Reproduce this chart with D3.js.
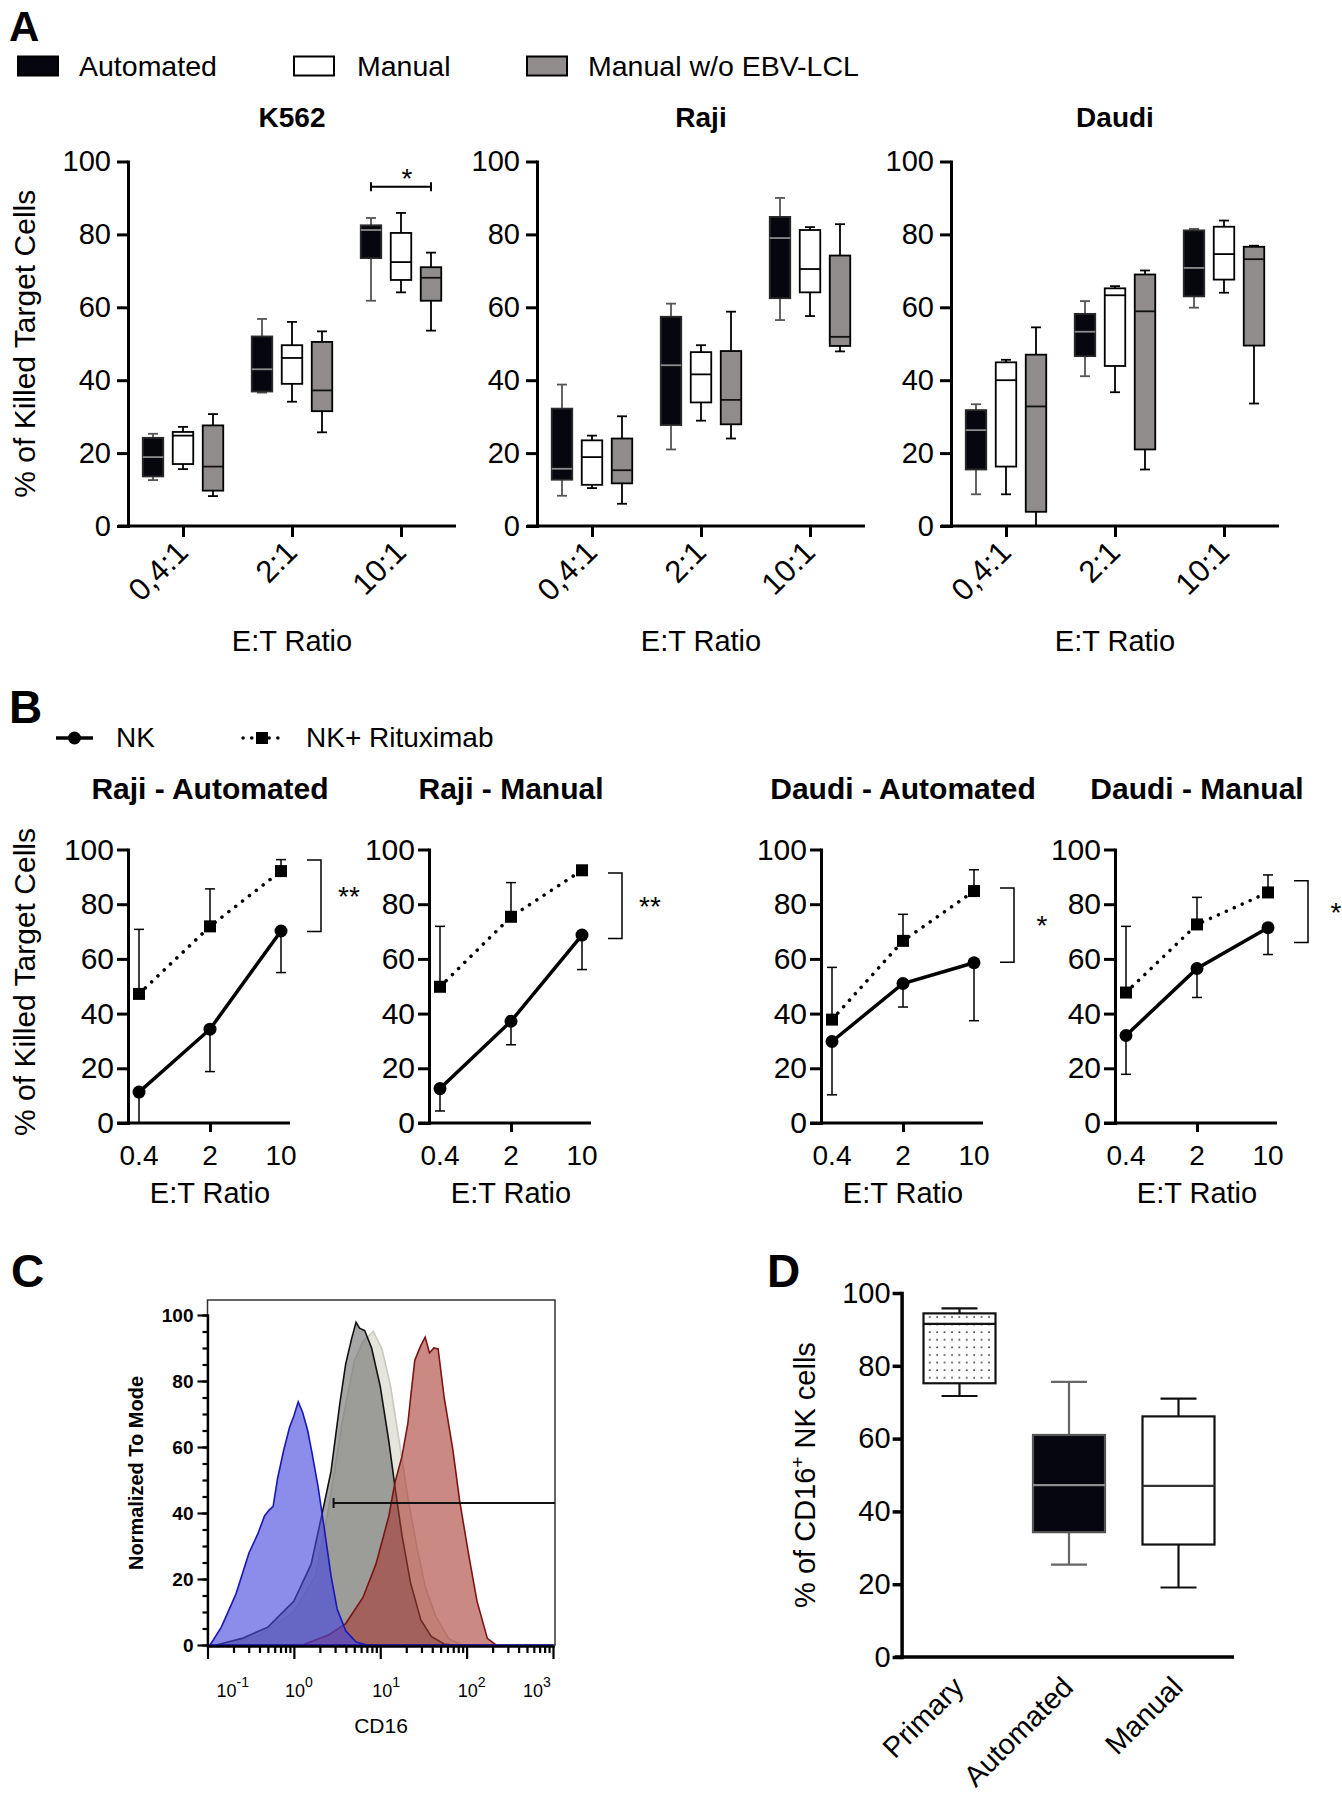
<!DOCTYPE html>
<html><head><meta charset="utf-8">
<script src="https://cdn.jsdelivr.net/npm/d3@7"></script>
<style>
body{margin:0;background:#fff}
svg{display:block}
text{font-family:"Liberation Sans",Arial,Helvetica,sans-serif;fill:#000}
</style></head><body>
<svg id="fig" width="1342" height="1800"></svg>
<script>
// ================= DATA =================
// Panel A
const ratioCategories = ["0,4:1", "2:1", "10:1"];
const protocolGroups = ["Automated", "Manual", "Manual w/o EBV-LCL"];
const targetLines = ["K562", "Raji", "Daudi"];
const yTicks = [0, 20, 40, 60, 80, 100];
// box stats per ratio: [whisker low, Q1, median, Q3, whisker high]
const k562Automated   = [[12.6,13.6,18.9,24.2,25.3],[36.6,36.9,43.0,52.0,56.8],[61.8,73.5,81.2,82.5,84.5]];
const k562Manual      = [[15.6,17.0,24.8,25.8,27.2],[34.1,39.0,46.1,49.6,56.0],[64.1,67.5,72.4,80.4,85.9]];
const k562ManualNoEBV = [[8.2,9.7,16.3,27.6,30.7],[25.7,31.5,37.2,50.5,53.4],[53.6,61.8,68.1,71.0,75.0]];
const rajiAutomated   = [[8.3,12.7,15.7,32.2,38.8],[21.0,27.7,44.1,57.4,61.0],[56.5,62.5,79.0,84.8,90.0]];
const rajiManual      = [[10.4,11.3,18.9,23.5,24.8],[28.9,33.9,41.6,47.7,49.6],[57.6,64.1,70.5,81.2,82.0]];
const rajiManualNoEBV = [[6.1,11.7,15.3,24.0,30.1],[24.0,27.9,34.6,48.0,58.8],[47.9,49.4,51.9,74.2,82.8]];
const daudiAutomated  = [[8.7,15.5,26.3,31.8,33.4],[41.1,46.6,53.3,58.2,61.7],[59.9,63.0,70.8,81.1,81.5]];
const daudiManual     = [[8.7,16.3,40.0,44.9,45.6],[36.7,43.9,63.3,65.2,65.8],[64.0,67.6,74.6,82.1,83.8]];
const daudiManualNoEBV= [[0.0,3.9,32.8,47.0,54.5],[15.5,21.0,58.9,69.0,70.1],[33.6,49.5,73.2,76.6,76.9]];
const k562SignifLevel = 93.1;
const k562SignifLabel = "*";

// Panel B
const etRatios = [0.4, 2, 10];
const etTickLabels = ["0.4", "2", "10"];
const bSeriesNames = ["NK", "NK+ Rituximab"];
const bTitles = ["Raji - Automated", "Raji - Manual", "Daudi - Automated", "Daudi - Manual"];
const nkMean     = [[11.3,34.3,70.2],[12.6,37.2,68.7],[29.8,51.0,58.6],[32.0,56.5,71.4]];
const nkLower    = [[0.0,18.8,55.0],[4.4,28.6,56.1],[10.3,42.4,37.4],[17.8,45.9,61.6]];
const nkRtxMean  = [[47.2,71.9,92.1],[49.8,75.4,92.4],[37.8,66.6,84.8],[47.7,72.6,84.3]];
const nkRtxUpper = [[70.8,85.6,96.3],[71.9,87.9,93.2],[56.9,76.3,92.6],[71.9,82.5,90.7]];
const bracketRange = [[70.0,96.2],[67.5,91.4],[58.8,85.9],[66.0,88.6]];
const bracketStars = ["**", "**", "*", "*"];

// Panel C : histograms, [log10(CD16), % of mode]
const cdDecades = [0.1, 1, 10, 100, 1000];
const cdExponents = ["-1", "0", "1", "2", "3"];
const cdYTicks = [0, 20, 40, 60, 80, 100];
const histLightGray = [[-0.79,0],[-0.39,3],[0,10],[0.25,21],[0.4,41],[0.55,66],[0.7,86],[0.8,92],[0.92,95],[1.02,89.7],[1.12,78.4],[1.22,61.6],[1.32,44.7],[1.42,30.1],[1.52,17.8],[1.64,8.8],[1.79,2],[1.94,0]];
const histDarkGray  = [[-0.9,0],[-0.6,2],[-0.3,5.4],[0,13.3],[0.2,24.5],[0.33,40.2],[0.43,52.6],[0.53,72.8],[0.6,85.2],[0.67,93],[0.72,97.8],[0.76,96],[0.82,95.3],[0.9,90],[1.0,78.4],[1.1,61.6],[1.17,48],[1.25,33.5],[1.35,18.9],[1.47,7.6],[1.59,2.6],[1.74,0.3],[1.84,0]];
const histRed       = [[0.1,0],[0.4,3],[0.6,6.5],[0.8,14.4],[0.95,24.5],[1.1,39.1],[1.17,49.2],[1.25,57],[1.32,67.2],[1.36,77],[1.4,86.3],[1.47,90.8],[1.52,93.3],[1.57,88.5],[1.62,90],[1.67,89.7],[1.74,75],[1.84,59.3],[1.92,43.6],[2.02,27.9],[2.12,13.3],[2.24,2],[2.34,0]];
const histBlue      = [[-0.97,0],[-0.84,5.4],[-0.67,15.5],[-0.52,27.9],[-0.42,33.5],[-0.34,39.1],[-0.29,40.8],[-0.24,42],[-0.19,50.3],[-0.12,58.8],[-0.05,66],[0,69.4],[0.05,73.7],[0.1,70.6],[0.16,65],[0.21,58.2],[0.28,48],[0.35,35.7],[0.43,21],[0.5,11],[0.6,4.3],[0.72,0.9],[0.85,0],[3,0]];
const gateLevel = 43;
const gateStartLog = 0.46;

// Panel D
const cd16Categories = ["Primary", "Automated", "Manual"];
const cd16Boxes = [[71.7,75.2,91.5,94.4,95.8],[25.4,34.3,47.2,61.0,75.6],[19.1,30.9,47.0,66.1,71.0]];

// ================= DRAW =================
const svg = d3.select("#fig");
const FONT = '"Liberation Sans", Arial, Helvetica, sans-serif';

const defs = svg.append("defs");
const pat = defs.append("pattern").attr("id","dots").attr("patternUnits","userSpaceOnUse")
  .attr("width",7.4).attr("height",7.6).attr("x",926).attr("y",1313);
pat.append("rect").attr("width",7.4).attr("height",7.6).attr("fill","#fff");
pat.append("rect").attr("x",3).attr("y",3.2).attr("width",1.6).attr("height",1.6).attr("fill","#333");

function styleAxis(sel, w, fs, weight) {
  sel.attr("font-size", null).attr("font-family", null);
  sel.selectAll("path.domain").attr("stroke","#000").attr("stroke-width",w).attr("stroke-linecap","square");
  sel.selectAll(".tick line").attr("stroke","#000").attr("stroke-width",w);
  sel.selectAll(".tick text").attr("font-size",fs).attr("font-family",FONT).attr("fill","#000")
     .attr("font-weight", weight || "normal");
}

function label(g, x, y, txt, size, opts) {
  opts = opts || {};
  const t = g.append("text").attr("x",x).attr("y",y).attr("font-size",size)
    .attr("text-anchor",opts.anchor || "start").attr("font-weight",opts.weight || "normal").text(txt);
  if (opts.rotate) t.attr("transform",`rotate(${opts.rotate},${x},${y})`);
  return t;
}

function drawBox(g, cx, w, capW, s, y, st, sw) {
  const ln = (x1,y1,x2,y2,c) => g.append("line").attr("x1",x1).attr("y1",y1).attr("x2",x2).attr("y2",y2)
      .attr("stroke",c).attr("stroke-width",sw);
  ln(cx, y(s[4]), cx, y(s[3]), st.whisker);
  ln(cx-capW/2, y(s[4]), cx+capW/2, y(s[4]), st.whisker);
  ln(cx, y(s[1]), cx, y(s[0]), st.whisker);
  ln(cx-capW/2, y(s[0]), cx+capW/2, y(s[0]), st.whisker);
  g.append("rect").attr("x",cx-w/2).attr("y",y(s[3])).attr("width",w).attr("height",y(s[1])-y(s[3]))
    .attr("fill",st.fill).attr("stroke",st.stroke).attr("stroke-width",sw);
  ln(cx-w/2, y(s[2]), cx+w/2, y(s[2]), st.median);
}

const boxStyles = [
  {fill:"#06060f", stroke:"#2a2a2a", median:"#8c8c8c", whisker:"#555"},
  {fill:"#ffffff", stroke:"#000", median:"#000", whisker:"#000"},
  {fill:"#918c8c", stroke:"#000", median:"#111", whisker:"#000"}
];

// ---------- Panel A ----------
label(svg, 9, 41, "A", 42, {weight:"bold"});
const legA = svg.append("g");
const legAX = [18, 294, 527], legATextX = [79, 357, 588];
protocolGroups.forEach((p,i)=>{
  legA.append("rect").attr("x",legAX[i]).attr("y",56.5).attr("width",40).attr("height",19)
    .attr("fill",boxStyles[i].fill).attr("stroke","#000").attr("stroke-width",2);
  label(legA, legATextX[i], 76, p, 28.5);
});

const panelAX = [128, 537, 951];
const boxSeries = [[k562Automated,k562Manual,k562ManualNoEBV],[rajiAutomated,rajiManual,rajiManualNoEBV],[daudiAutomated,daudiManual,daudiManualNoEBV]];
const yA = d3.scaleLinear().domain([0,100]).range([526,161.5]);
targetLines.forEach((name,pi)=>{
  const ax = panelAX[pi];
  const g = svg.append("g");
  const x = d3.scalePoint().domain(ratioCategories).range([ax+55, ax+273]);
  const off = d3.scalePoint().domain(protocolGroups).range([-30,30]);
  g.append("line").attr("x1",ax-10).attr("x2",ax+328).attr("y1",yA(0)).attr("y2",yA(0))
    .attr("stroke","#000").attr("stroke-width",3);
  const xa = g.append("g").attr("transform",`translate(0,${yA(0)})`)
    .call(d3.axisBottom(x).tickSize(11).tickFormat(""));
  xa.select(".domain").remove();
  xa.selectAll(".tick line").attr("stroke","#000").attr("stroke-width",3);
  const ya = g.append("g").attr("transform",`translate(${ax},0)`)
    .call(d3.axisLeft(yA).tickValues(yTicks).tickSize(11).tickSizeOuter(0).tickPadding(6));
  styleAxis(ya, 3, 29);
  g.selectAll("text.xl").data(ratioCategories).join("text").attr("class","xl")
    .attr("transform",d=>`translate(${x(d)+7},${yA(0)+28}) rotate(-45)`)
    .attr("text-anchor","end").attr("font-size",31).text(d=>d);
  label(g, x(ratioCategories[1]), 127, name, 28, {anchor:"middle", weight:"bold"});
  label(g, x(ratioCategories[1]), 651, "E:T Ratio", 29, {anchor:"middle"});
  boxSeries[pi].forEach((series,gi)=>{
    series.forEach((s,ci)=>drawBox(g, x(ratioCategories[ci])+off(protocolGroups[gi]), 20.5, 10, s, yA, boxStyles[gi], 1.8));
  });
  if (pi === 0) {
    label(g, 35, (yA(0)+yA(100))/2, "% of Killed Target Cells", 30, {anchor:"middle", rotate:-90});
    const c = ratioCategories[2];
    const x1 = x(c)+off(protocolGroups[0]), x2 = x(c)+off(protocolGroups[2]), yy = yA(k562SignifLevel);
    g.append("path").attr("d",`M${x1},${yy-4.5}V${yy+4.5}M${x1},${yy}H${x2}M${x2},${yy-4.5}V${yy+4.5}`)
      .attr("stroke","#000").attr("stroke-width",2).attr("fill","none");
    label(g, (x1+x2)/2+6, yy+1, k562SignifLabel, 28, {anchor:"middle"});
  }
});

// ---------- Panel B ----------
label(svg, 9, 723, "B", 46, {weight:"bold"});
const legB = svg.append("g");
legB.append("line").attr("x1",56).attr("x2",93).attr("y1",738).attr("y2",738).attr("stroke","#000").attr("stroke-width",3.5);
legB.append("circle").attr("cx",74.5).attr("cy",738).attr("r",6.5).attr("fill","#000");
label(legB, 116, 747, bSeriesNames[0], 28);
legB.append("line").attr("x1",243).attr("x2",281).attr("y1",738).attr("y2",738).attr("stroke","#000")
  .attr("stroke-width",3.5).attr("stroke-dasharray","0.1 8.6").attr("stroke-linecap","round");
legB.append("rect").attr("x",256).attr("y",732).attr("width",12).attr("height",12).attr("fill","#000");
label(legB, 306, 747, bSeriesNames[1], 28);

const panelBX = [128, 429, 821, 1115];
const yB = d3.scaleLinear().domain([0,100]).range([1123,849.5]);
bTitles.forEach((title,pi)=>{
  const ax = panelBX[pi];
  const g = svg.append("g");
  const x = d3.scaleLog().domain([0.4,10]).range([ax+11, ax+153]);
  g.append("line").attr("x1",ax-11).attr("x2",ax+162).attr("y1",yB(0)).attr("y2",yB(0))
    .attr("stroke","#000").attr("stroke-width",3);
  const xa = g.append("g").attr("transform",`translate(0,${yB(0)})`)
    .call(d3.axisBottom(x).tickValues([etRatios[1]]).tickSize(9).tickFormat(""));
  xa.select(".domain").remove();
  xa.selectAll(".tick line").attr("stroke","#000").attr("stroke-width",3);
  const ya = g.append("g").attr("transform",`translate(${ax},0)`)
    .call(d3.axisLeft(yB).tickValues(yTicks).tickSize(11).tickSizeOuter(0).tickPadding(3));
  styleAxis(ya, 3, 30);
  etRatios.forEach((r,i)=>label(g, x(r), yB(0)+42, etTickLabels[i], 28, {anchor:"middle"}));
  label(g, x(etRatios[1]), 799, title, 30, {anchor:"middle", weight:"bold"});
  label(g, x(etRatios[1]), 1203, "E:T Ratio", 29, {anchor:"middle"});
  if (pi === 0) label(g, 35, 982, "% of Killed Target Cells", 30, {anchor:"middle", rotate:-90});

  const eb = (xx, y1, y2) => {
    g.append("line").attr("x1",xx).attr("x2",xx).attr("y1",yB(y1)).attr("y2",yB(y2)).attr("stroke","#000").attr("stroke-width",1.5);
    g.append("line").attr("x1",xx-5).attr("x2",xx+5).attr("y1",yB(y2)).attr("y2",yB(y2)).attr("stroke","#000").attr("stroke-width",1.5);
  };
  etRatios.forEach((r,i)=>{ eb(x(r), nkMean[pi][i], nkLower[pi][i]); eb(x(r), nkRtxMean[pi][i], nkRtxUpper[pi][i]); });
  const line = d3.line().x((d,i)=>x(etRatios[i])).y(d=>yB(d));
  g.append("path").attr("d",line(nkRtxMean[pi])).attr("fill","none").attr("stroke","#000")
    .attr("stroke-width",3.5).attr("stroke-dasharray","0.1 8.6").attr("stroke-linecap","round");
  g.append("path").attr("d",line(nkMean[pi])).attr("fill","none").attr("stroke","#000").attr("stroke-width",3.5);
  g.selectAll("circle.nk").data(nkMean[pi]).join("circle").attr("class","nk")
    .attr("cx",(d,i)=>x(etRatios[i])).attr("cy",d=>yB(d)).attr("r",6.5).attr("fill","#000");
  g.selectAll("rect.rtx").data(nkRtxMean[pi]).join("rect").attr("class","rtx")
    .attr("x",(d,i)=>x(etRatios[i])-6).attr("y",d=>yB(d)-6).attr("width",12).attr("height",12).attr("fill","#000");
  const bx = x(etRatios[2]);
  const [lo, hi] = bracketRange[pi];
  g.append("path").attr("d",`M${bx+26},${yB(hi)}H${bx+40}V${yB(lo)}H${bx+26}`)
    .attr("fill","none").attr("stroke","#000").attr("stroke-width",1.5);
  label(g, bx+68, yB((lo+hi)/2)+10, bracketStars[pi], 28, {anchor:"middle"});
});

// ---------- Panel C ----------
label(svg, 11, 1287, "C", 46, {weight:"bold"});
const gC = svg.append("g");
const xC = d3.scaleLog().domain([0.1,1000]).range([207.5,553]);
const yC = d3.scaleLinear().domain([0,100]).range([1645,1315]);
gC.append("rect").attr("x",207.5).attr("y",1300).attr("width",555-207.5).attr("height",1645-1300)
  .attr("fill","none").attr("stroke","#333").attr("stroke-width",1.5);
const area = d3.area().x(d=>xC(Math.pow(10,d[0]))).y0(yC(0)).y1(d=>yC(d[1]));
const histLayers = [
  {data:histLightGray, fill:"#dcdcd2", op:0.75, stroke:"#c9c9c0"},
  {data:histDarkGray,  fill:"#6f6f6f", op:0.62, stroke:"#111"},
  {data:histRed,       fill:"#a83a32", op:0.6,  stroke:"#7c1414"},
  {data:histBlue,      fill:"#4646de", op:0.62, stroke:"#1818b4"}
];
histLayers.forEach(h=>{
  gC.append("path").attr("d",area(h.data)).attr("fill",h.fill).attr("fill-opacity",h.op)
    .attr("stroke",h.stroke).attr("stroke-width",1.6);
});
const gx = xC(Math.pow(10,gateStartLog)), gy = yC(gateLevel);
gC.append("path").attr("d",`M${gx},${gy-5}V${gy+5}M${gx},${gy}H555`).attr("stroke","#111").attr("stroke-width",2).attr("fill","none");
const minorY = d3.range(0,101,5);
const yCm = gC.append("g").attr("transform","translate(207.5,0)").call(d3.axisLeft(yC).tickValues(minorY).tickSize(5).tickSizeOuter(0).tickFormat(""));
styleAxis(yCm, 2.2, 16);
const yCM = gC.append("g").attr("transform","translate(207.5,0)").call(d3.axisLeft(yC).tickValues(cdYTicks).tickSize(10).tickSizeOuter(0).tickPadding(4));
styleAxis(yCM, 2.2, 19, "bold");
const minorX = [];
cdDecades.slice(0,4).forEach(d=>{ for (let k=2;k<=9;k++) minorX.push(d*k); });
const xCm = gC.append("g").attr("transform","translate(0,1646)").call(d3.axisBottom(xC).tickValues(minorX).tickSize(7).tickSizeOuter(0).tickFormat(""));
styleAxis(xCm, 2.2, 16);
const xCM = gC.append("g").attr("transform","translate(0,1646)").call(d3.axisBottom(xC).tickValues(cdDecades).tickSize(13).tickSizeOuter(0).tickFormat(""));
styleAxis(xCM, 2.2, 16);
const labShift = [19, 1, 2, 1, -20];
cdDecades.forEach((d,i)=>{
  const t = gC.append("text").attr("x",xC(d)+labShift[i]-10).attr("y",1697).attr("font-size",18);
  t.append("tspan").text("10");
  t.append("tspan").attr("dy",-10).attr("font-size",14).text(cdExponents[i]);
});
label(gC, 381, 1733, "CD16", 21, {anchor:"middle"});
label(gC, 143, 1473, "Normalized To Mode", 20, {anchor:"middle", weight:"bold", rotate:-90});

// ---------- Panel D ----------
label(svg, 767, 1287, "D", 46, {weight:"bold"});
const gD = svg.append("g");
const yD = d3.scaleLinear().domain([0,100]).range([1657,1293]);
const xD = d3.scalePoint().domain(cd16Categories).range([959.5,1178.5]);
gD.append("line").attr("x1",895).attr("x2",1234).attr("y1",yD(0)).attr("y2",yD(0)).attr("stroke","#000").attr("stroke-width",3.5);
const yDa = gD.append("g").attr("transform","translate(901.6,0)")
  .call(d3.axisLeft(yD).tickValues(yTicks).tickSize(9).tickSizeOuter(0).tickPadding(2));
styleAxis(yDa, 3.5, 29);
const dStyles = [
  {fill:"url(#dots)", stroke:"#111", median:"#111", whisker:"#111"},
  {fill:"#06060f", stroke:"#555", median:"#8c8c8c", whisker:"#666"},
  {fill:"#ffffff", stroke:"#111", median:"#333", whisker:"#111"}
];
cd16Categories.forEach((c,i)=>drawBox(gD, xD(c), 72, 36, cd16Boxes[i], yD, dStyles[i], 2.2));
gD.selectAll("text.dx").data(cd16Categories).join("text").attr("class","dx")
  .attr("transform",d=>`translate(${xD(d)+6},${yD(0)+32}) rotate(-45)`)
  .attr("text-anchor","end").attr("font-size",29).text(d=>d);
const tD = gD.append("text").attr("transform",`translate(815,1475) rotate(-90)`).attr("text-anchor","middle").attr("font-size",29);
tD.append("tspan").text("% of CD16");
tD.append("tspan").attr("dy",-11).attr("font-size",19).text("+");
tD.append("tspan").attr("dy",11).text(" NK cells");
</script>
</body></html>
